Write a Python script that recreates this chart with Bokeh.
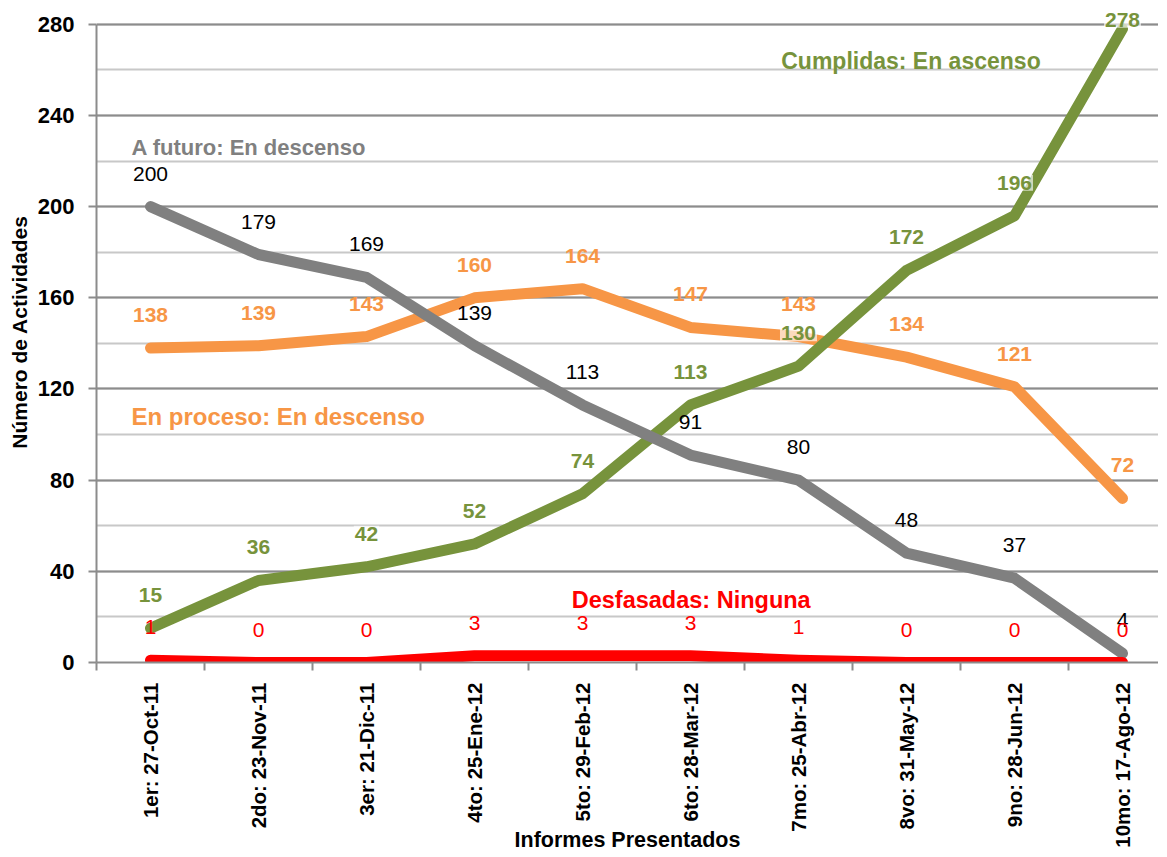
from bokeh.plotting import figure
from bokeh.models import ColumnDataSource, Range1d, FixedTicker, SingleIntervalTicker, Label
from bokeh.core.properties import value
from bokeh.embed import file_html
from bokeh.resources import INLINE

FONT = "Liberation Sans"

categories = ["1er: 27-Oct-11", "2do: 23-Nov-11", "3er: 21-Dic-11", "4to: 25-Ene-12",
              "5to: 29-Feb-12", "6to: 28-Mar-12", "7mo: 25-Abr-12", "8vo: 31-May-12",
              "9no: 28-Jun-12", "10mo: 17-Ago-12"]
a_futuro = [200, 179, 169, 139, 113, 91, 80, 48, 37, 4]
en_proceso = [138, 139, 143, 160, 164, 147, 143, 134, 121, 72]
cumplidas = [15, 36, 42, 52, 74, 113, 130, 172, 196, 278]
desfasadas = [1, 0, 0, 3, 3, 3, 1, 0, 0, 0]

xs = list(range(1, len(categories) + 1))

W, H = 1158, 855
LEFT, TOP, BOTTOM = 96, 1, 855 - 662
p = figure(width=W, height=H, output_backend="svg", toolbar_location=None,
           x_range=Range1d(0.5, 0.5 + (W - LEFT) / 108.0), y_range=Range1d(0, 290),
           min_border_left=LEFT, min_border_top=TOP, min_border_bottom=BOTTOM, min_border_right=0)
p.outline_line_color = None
p.background_fill_color = "white"

# Axes
p.xaxis.ticker = FixedTicker(ticks=xs, minor_ticks=[x - 0.5 for x in xs] + [len(xs) + 0.5])
p.xaxis.major_label_overrides = {x: c for x, c in zip(xs, categories)}
p.xaxis.major_label_orientation = 1.5708
p.xaxis.major_tick_out = 0
p.xaxis.major_tick_in = 0
p.xaxis.minor_tick_out = 8
p.xaxis.minor_tick_in = 0
p.xaxis.minor_tick_line_color = "#8c8c8c"
p.xaxis.minor_tick_line_width = 2
p.xaxis.axis_line_color = "#8c8c8c"
p.xaxis.axis_line_width = 2
p.xaxis.major_label_text_font = FONT
p.xaxis.major_label_text_font_style = "bold"
p.xaxis.major_label_text_font_size = "20.5px"
p.xaxis.major_label_text_color = "black"
p.xaxis.major_label_standoff = 12
p.xaxis.axis_label = "Informes Presentados"
p.xaxis.axis_label_text_font = FONT
p.xaxis.axis_label_text_font_style = "bold"
p.xaxis.axis_label_text_font_size = "21.5px"
p.xaxis.axis_label_text_color = "black"
p.xaxis.axis_label_standoff = -23

p.yaxis.ticker = SingleIntervalTicker(interval=40, num_minor_ticks=2)
p.yaxis.bounds = (0, 280)
p.yaxis.axis_line_color = "#8c8c8c"
p.yaxis.axis_line_width = 2
p.yaxis.major_tick_line_color = "#8c8c8c"
p.yaxis.major_tick_line_width = 2
p.yaxis.major_tick_out = 8
p.yaxis.major_tick_in = 0
p.yaxis.minor_tick_line_color = None
p.yaxis.major_label_text_font = FONT
p.yaxis.major_label_text_font_style = "bold"
p.yaxis.major_label_text_font_size = "22px"
p.yaxis.major_label_text_color = "black"
p.yaxis.major_label_standoff = 14
p.yaxis.axis_label = "Número de Actividades"
p.yaxis.axis_label_text_font = FONT
p.yaxis.axis_label_text_font_style = "bold"
p.yaxis.axis_label_text_font_size = "21px"
p.yaxis.axis_label_text_color = "black"
p.yaxis.axis_label_standoff = 4

p.xgrid.grid_line_color = None
p.ygrid.bounds = (0, 280)
p.ygrid.grid_line_color = "#8c8c8c"
p.ygrid.grid_line_width = 2
p.ygrid.minor_grid_line_color = "#c8c8c8"
p.ygrid.minor_grid_line_width = 2

GRAY = "#808080"
ORANGE = "#F79646"
GREEN = "#77933C"
RED = "#FF0000"

series = [
    (en_proceso, ORANGE, ORANGE, "bold", False),
    (cumplidas, GREEN, GREEN, "bold", True),
    (a_futuro, GRAY, "black", "normal", False),
    (desfasadas, RED, RED, "normal", False),
]

sources = []
for vals, col, lcol, style, bg in series:
    offs = [-33 if v < 265 else -9 for v in vals]
    src = ColumnDataSource(dict(x=xs, y=vals, t=[str(v) for v in vals], off=offs))
    p.line("x", "y", source=src, line_color=col, line_width=11,
           line_cap="round", line_join="round")
    sources.append((src, lcol, style, bg))

for src, lcol, style, bg in sources:
    kw = {}
    if bg:
        kw = dict(background_fill_color="white", background_fill_alpha=0.65, padding=1)
    p.text("x", "y", text="t", source=src, y_offset="off", text_align="center",
           text_baseline="middle", text_color=lcol, text_font=value(FONT),
           text_font_style=style, text_font_size="21px", **kw)

def ann(x, y, text, color, size="23px", align="left"):
    p.add_layout(Label(x=x, y=y, text=text, text_color=color, text_font=FONT,
                       text_font_style="bold", text_font_size=size,
                       text_baseline="middle", text_align=align))

ann(0.824, 226, "A futuro: En descenso", GRAY, size="22px")
ann(6.84, 264, "Cumplidas: En ascenso", GREEN, size="23px")
ann(0.824, 108, "En proceso: En descenso", ORANGE, size="24px")
ann(4.9, 27.6, "Desfasadas: Ninguna", RED, size="23.5px")

open("out.html", "w").write(file_html(p, INLINE))
